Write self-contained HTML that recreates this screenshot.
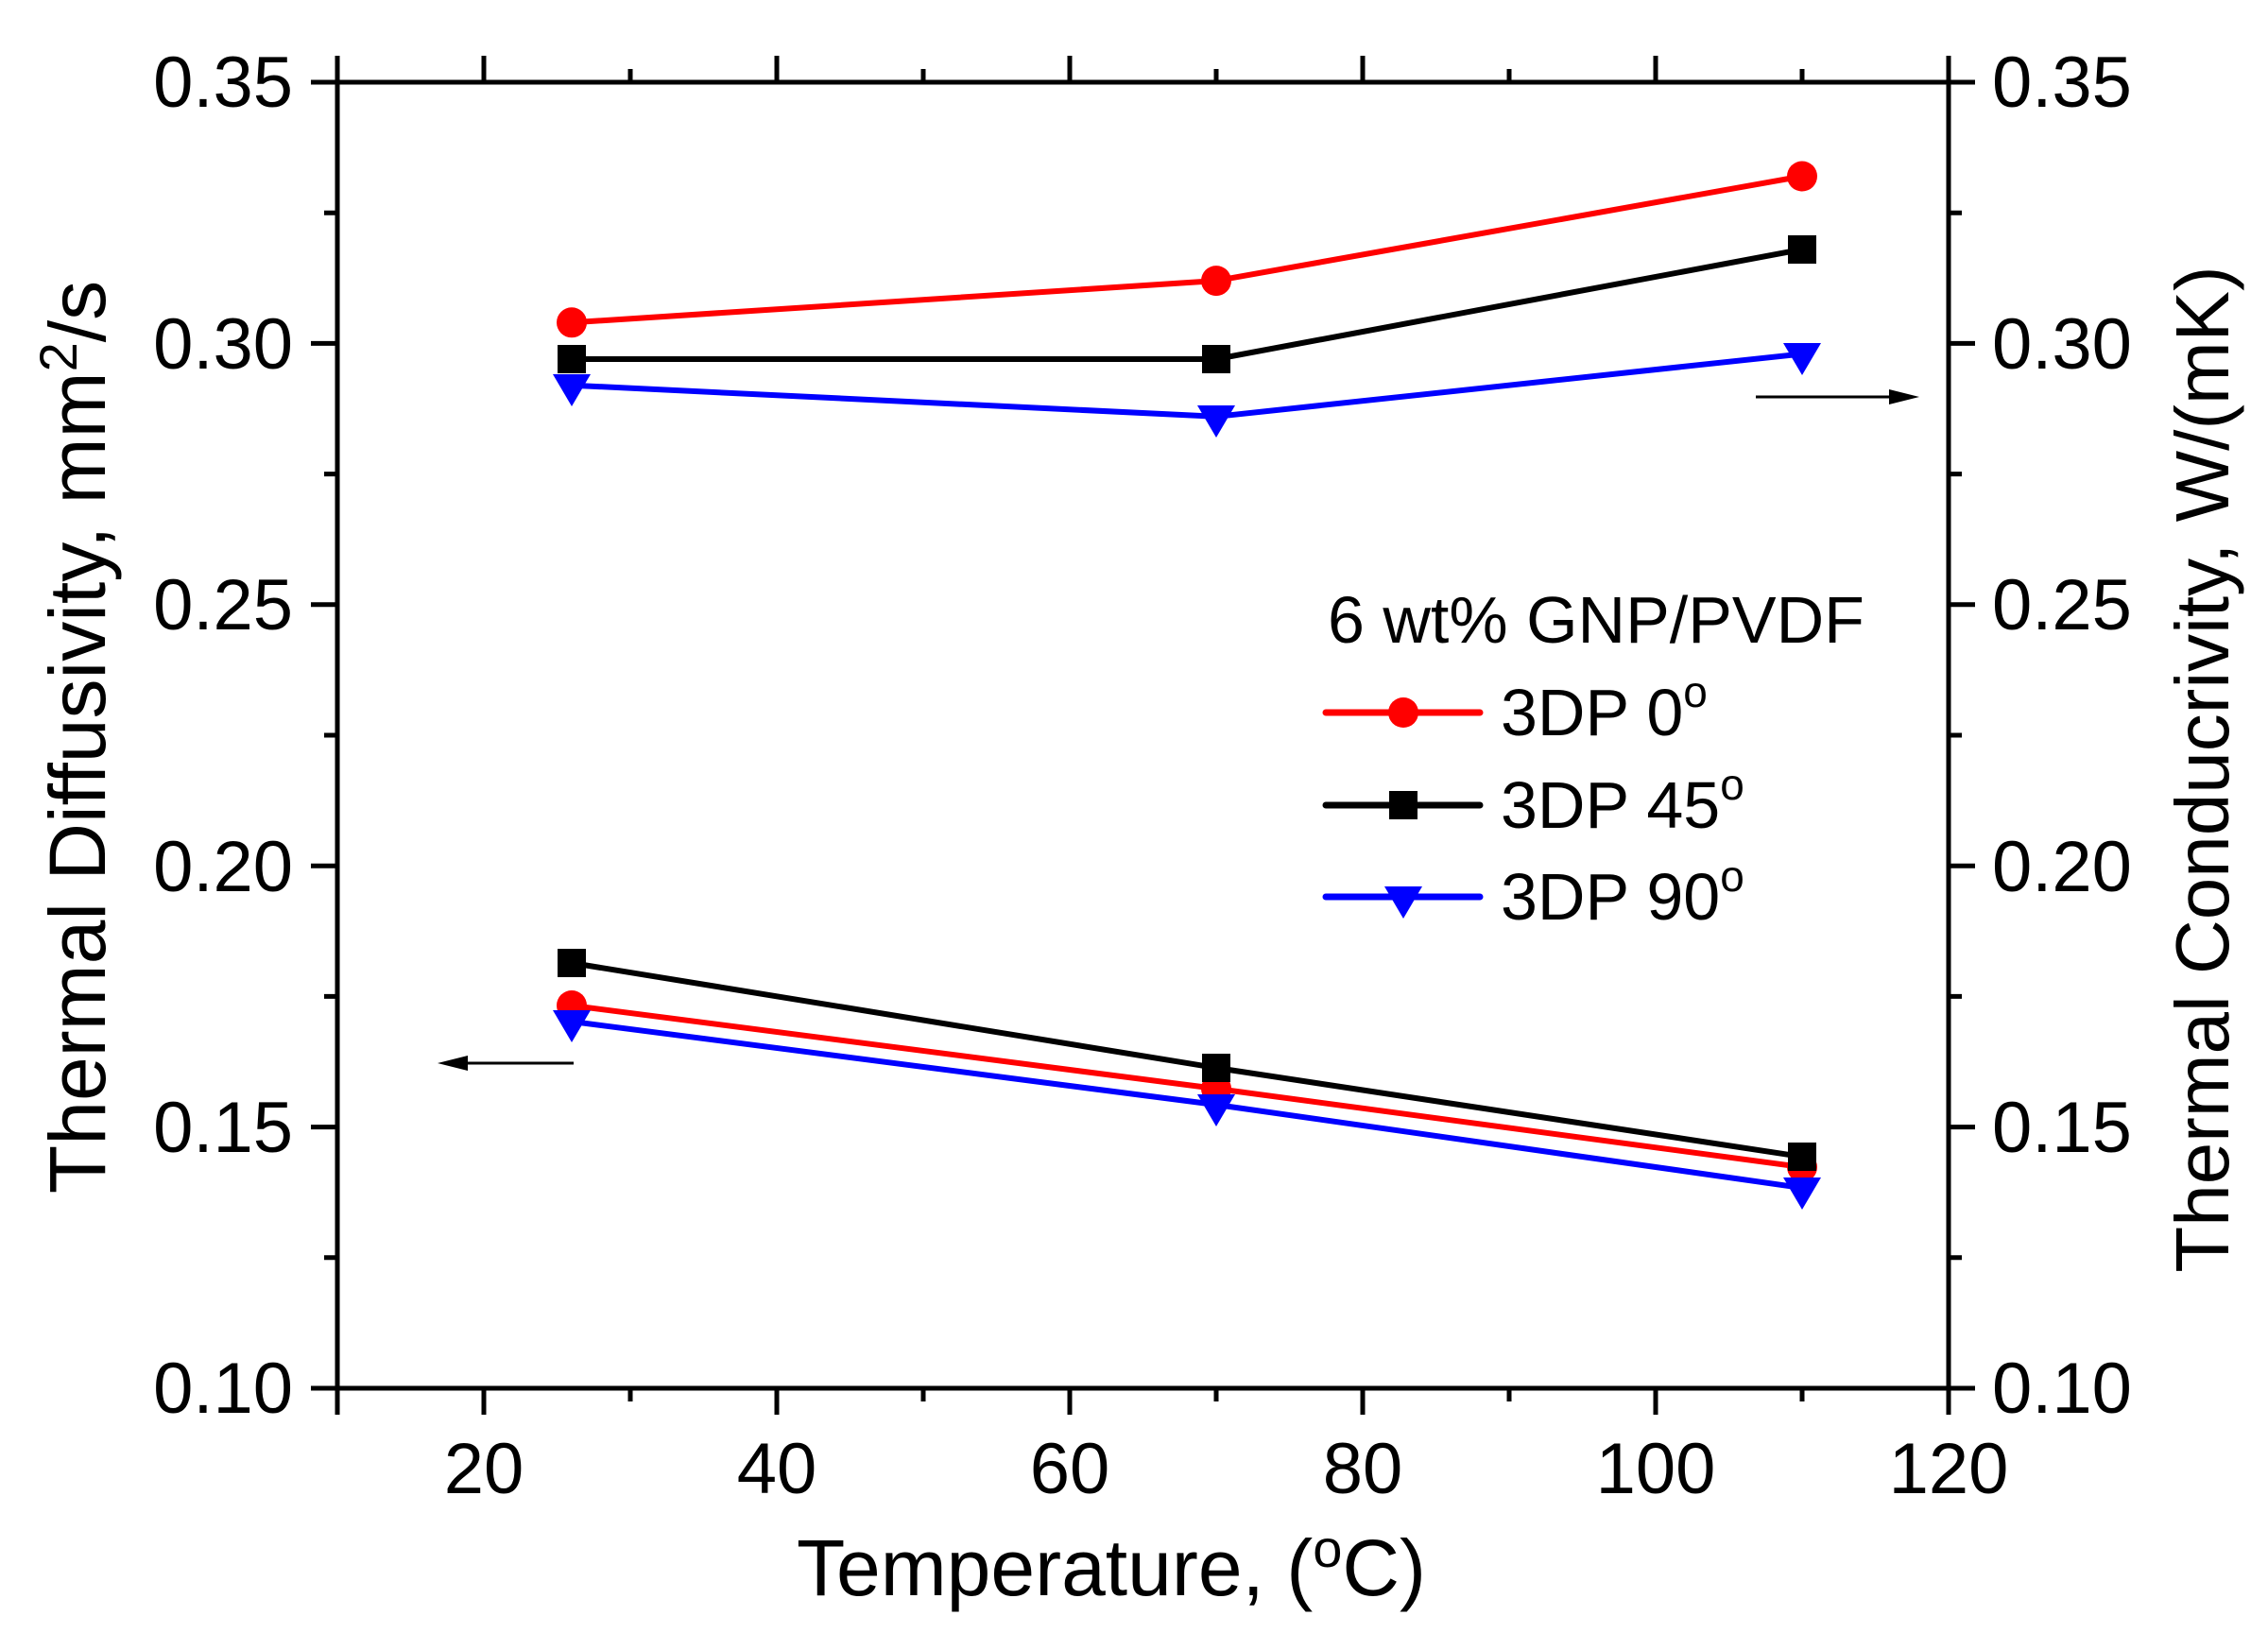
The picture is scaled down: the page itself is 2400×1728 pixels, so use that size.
<!DOCTYPE html>
<html><head><meta charset="utf-8"><style>html,body{margin:0;padding:0;background:#fff}svg{display:block}</style></head>
<body>
<svg width="2400" height="1728" viewBox="0 0 2400 1728" xmlns="http://www.w3.org/2000/svg" font-family="Liberation Sans, Arial, sans-serif">
<rect width="2400" height="1728" fill="#fff"/>
<g stroke="#000" stroke-width="5" fill="none">
<rect x="357" y="87" width="1705" height="1382"/>
<path d="M357,1469v28 M512,1469v28 M822,1469v28 M1132,1469v28 M1442,1469v28 M1752,1469v28 M2062,1469v28"/>
<path d="M667,1469v14 M977,1469v14 M1287,1469v14 M1597,1469v14 M1907,1469v14"/>
<path d="M357,87v-28 M512,87v-28 M822,87v-28 M1132,87v-28 M1442,87v-28 M1752,87v-28 M2062,87v-28"/>
<path d="M667,87v-14 M977,87v-14 M1287,87v-14 M1597,87v-14 M1907,87v-14"/>
<path d="M357,87h-28 M357,363.4h-28 M357,639.8h-28 M357,916.2h-28 M357,1192.6h-28 M357,1469h-28"/>
<path d="M357,225.2h-14 M357,501.6h-14 M357,778h-14 M357,1054.4h-14 M357,1330.8h-14"/>
<path d="M2062,87h28 M2062,363.4h28 M2062,639.8h28 M2062,916.2h28 M2062,1192.6h28 M2062,1469h28"/>
<path d="M2062,225.2h14 M2062,501.6h14 M2062,778h14 M2062,1054.4h14 M2062,1330.8h14"/>
</g>
<g font-size="76" fill="#000" text-anchor="end">
<text x="310" y="113">0.35</text><text x="310" y="390">0.30</text><text x="310" y="666">0.25</text>
<text x="310" y="943">0.20</text><text x="310" y="1219">0.15</text><text x="310" y="1495">0.10</text>
</g>
<g font-size="76" fill="#000" text-anchor="start">
<text x="2108" y="113">0.35</text><text x="2108" y="390">0.30</text><text x="2108" y="666">0.25</text>
<text x="2108" y="943">0.20</text><text x="2108" y="1219">0.15</text><text x="2108" y="1495">0.10</text>
</g>
<g font-size="76" fill="#000" text-anchor="middle">
<text x="512" y="1580">20</text><text x="822" y="1580">40</text><text x="1132" y="1580">60</text>
<text x="1442" y="1580">80</text><text x="1752" y="1580">100</text><text x="2062" y="1580">120</text>
</g>
<text x="1176" y="1688" font-size="84" text-anchor="middle">Temperature, (<tspan font-size="56" dy="-30">o</tspan><tspan dy="30">C)</tspan></text>
<text transform="translate(111,780) rotate(-90)" font-size="84" text-anchor="middle">Thermal Diffusivity, mm<tspan font-size="56" dy="-30">2</tspan><tspan dy="30">/s</tspan></text>
<text transform="translate(2358,814) rotate(-90)" font-size="80" text-anchor="middle">Thermal Conducrivity, W/(mK)</text>
<g stroke-width="6" fill="none" stroke-linejoin="round">
<polyline stroke="#ff0000" points="605,341.3 1287,297.1 1907,186.5"/>
<polyline stroke="#000" points="605,380 1287,380 1907,263.9"/>
<polyline stroke="#0000ff" points="605,407.7 1287,440.8 1907,374.5"/>
<polyline stroke="#ff0000" points="605,1064 1287,1152 1907,1235"/>
<polyline stroke="#000" points="605,1019 1287,1130 1907,1224"/>
<polyline stroke="#0000ff" points="605,1081 1287,1169 1907,1257"/>
</g>
<g fill="#ff0000"><circle cx="605" cy="341.3" r="16"/><circle cx="1287" cy="297.1" r="16"/><circle cx="1907" cy="186.5" r="16"/>
<circle cx="605" cy="1064" r="16"/><circle cx="1287" cy="1152" r="16"/><circle cx="1907" cy="1235" r="16"/></g>
<g fill="#000"><rect x="590" y="365" width="30" height="30"/><rect x="1272" y="365" width="30" height="30"/><rect x="1892" y="249" width="30" height="30"/>
<rect x="590" y="1004" width="30" height="30"/><rect x="1272" y="1115" width="30" height="30"/><rect x="1892" y="1209" width="30" height="30"/></g>
<g fill="#0000ff">
<path d="M585,396h40l-20,34z"/><path d="M1267,429h40l-20,34z"/><path d="M1887,363h40l-20,34z"/>
<path d="M585,1069h40l-20,34z"/><path d="M1267,1158h40l-20,34z"/><path d="M1887,1246h40l-20,34z"/>
</g>
<g stroke="#000" stroke-width="3"><line x1="607" y1="1125" x2="480" y2="1125"/><line x1="1858" y1="420" x2="2012" y2="420"/></g>
<path d="M463,1125l32,-8v16z" fill="#000"/><path d="M2031,420l-32,-8v16z" fill="#000"/>
<text x="1405" y="680" font-size="70">6 wt% GNP/PVDF</text>
<g stroke-width="7" stroke-linecap="round">
<line x1="1403" y1="754" x2="1566" y2="754" stroke="#ff0000"/>
<line x1="1403" y1="852" x2="1566" y2="852" stroke="#000"/>
<line x1="1403" y1="949" x2="1566" y2="949" stroke="#0000ff"/>
</g>
<circle cx="1485" cy="754" r="16" fill="#ff0000"/>
<rect x="1470" y="837" width="30" height="30" fill="#000"/>
<path d="M1465,938h40l-20,34z" fill="#0000ff"/>
<g font-size="70">
<text x="1588" y="778">3DP 0<tspan font-size="46" dy="-30">o</tspan></text>
<text x="1588" y="876">3DP 45<tspan font-size="46" dy="-30">o</tspan></text>
<text x="1588" y="973">3DP 90<tspan font-size="46" dy="-30">o</tspan></text>
</g>
</svg>
</body></html>
